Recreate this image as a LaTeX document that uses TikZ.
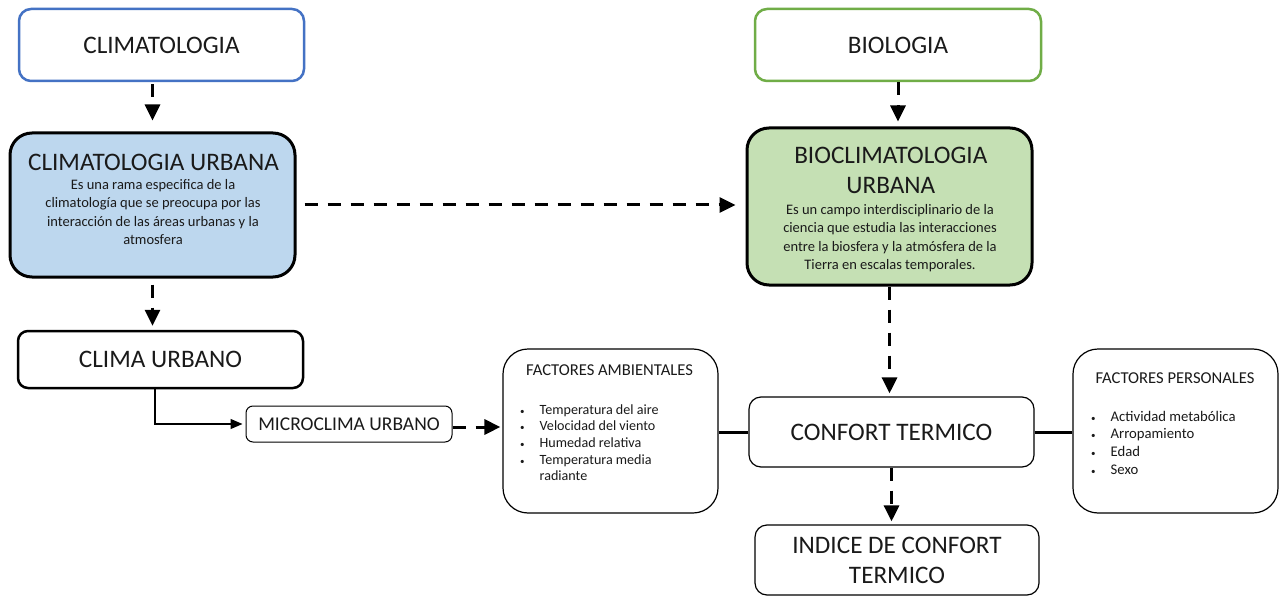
\documentclass[tikz,border=0pt]{standalone}
\usepackage{fontspec}
\setmainfont{Carlito}
\usetikzlibrary{arrows.meta}
\definecolor{cblue}{HTML}{4472C4}
\definecolor{cgreen}{HTML}{70AD47}
\definecolor{cbluef}{HTML}{BDD7EE}
\definecolor{cgreenf}{HTML}{C5E0B4}
\definecolor{txt}{HTML}{1A1A1A}
\newcommand\mybul{{\fontsize{9}{9}\selectfont\textbullet}}
\begin{document}
\begin{tikzpicture}[x=1pt,y=-1pt,
  bx/.style={draw=black, line width=1.2pt, rounded corners=12pt, inner sep=0pt, text=txt},
  big/.style={font=\fontsize{25.2}{30}\selectfont, text=txt},
  topbox/.style={bx, line width=2.5pt, minimum width=285pt, minimum height=72pt, big},
  desc/.style={font=\fontsize{14.5}{18.3}\selectfont, align=center, inner sep=0pt, anchor=base, text=txt},
  listbox/.style={anchor=base west, inner sep=0pt, text=txt},
  darr/.style={line width=3pt, dash pattern=on 13pt off 10pt, -{Triangle[length=16pt,width=15pt]}},
  solidc/.style={line width=3pt},
  thinarr/.style={line width=1.2pt, -{Triangle[length=12pt,width=10pt]}}]
\useasboundingbox[fill=white] (0,0) rectangle (1279,596);

% top boxes
\node[topbox, draw=cblue] (clim) at (161.5,45) {CLIMATOLOGIA};
\node[topbox, draw=cgreen, minimum width=286pt] (biol) at (898,45) {BIOLOGIA};

% climatologia urbana
\node[bx, fill=cbluef, line width=3pt, rounded corners=22pt, minimum width=285pt, minimum height=144pt] (climurb) at (152.5,205) {};
\node[big, inner sep=0pt] (climurbT) at (153.5,162) {CLIMATOLOGIA URBANA};
\node[desc] (climurbD) at (153,244.4) {Es una rama especifica de la\\climatología que se preocupa por las\\interacción de las áreas urbanas y la\\atmosfera};

% bioclimatologia urbana
\node[bx, fill=cgreenf, line width=3pt, rounded corners=22pt, minimum width=285pt, minimum height=157pt] (bioclim) at (889.5,206.5) {};
\node[big, inner sep=0pt, align=center] (bioclimT) at (890.8,170) {BIOCLIMATOLOGIA\\URBANA};
\node[desc] (bioclimD) at (890,269.4) {Es un campo interdisciplinario de la\\ciencia que estudia las interacciones\\entre la biosfera y la atmósfera de la\\Tierra en escalas temporales.};

% clima urbano, microclima
\node[bx, line width=2.5pt, rounded corners=10pt, minimum width=285pt, minimum height=57pt, big] (climaurb) at (160.5,359.5) {CLIMA URBANO};
\node[bx, line width=1pt, rounded corners=7pt, minimum width=206pt, minimum height=36pt, font=\fontsize{19.5}{23}\selectfont] (micro) at (349,424) {MICROCLIMA URBANO};

% factores ambientales
\node[bx, rounded corners=25pt, minimum width=215pt, minimum height=164pt] (famb) at (610.5,431) {};
\node[font=\fontsize{16.6}{20}\selectfont, inner sep=0pt, text=txt] (fambT) at (609.5,370) {FACTORES AMBIENTALES};
\node[listbox, font=\fontsize{14.1}{16.7}\selectfont] (fambL) at (520,414) {\begin{tabular}[t]{@{}l@{\hspace{15pt}}l@{}}
\mybul & Temperatura del aire\\
\mybul & Velocidad del viento\\
\mybul & Humedad relativa\\
\mybul & Temperatura media\\
 & radiante
\end{tabular}};

% confort termico
\node[bx, minimum width=285pt, minimum height=70pt, big] (confort) at (891.5,432) {CONFORT TERMICO};

% factores personales
\node[bx, rounded corners=25pt, minimum width=205pt, minimum height=164pt] (fpers) at (1175.5,431) {};
\node[font=\fontsize{16.6}{20}\selectfont, inner sep=0pt, text=txt] (fpersT) at (1175,378) {FACTORES PERSONALES};
\node[listbox, font=\fontsize{14.7}{17.7}\selectfont] (fpersL) at (1091,421) {\begin{tabular}[t]{@{}l@{\hspace{15pt}}l@{}}
\mybul & Actividad metabólica\\
\mybul & Arropamiento\\
\mybul & Edad\\
\mybul & Sexo
\end{tabular}};

% indice
\node[bx, minimum width=284pt, minimum height=70pt, big, align=center] (indice) at (897,560) {INDICE DE CONFORT\\TERMICO};

% connectors
\draw[darr, shorten <=2pt, shorten >=11pt] (climurb.north |- clim.south) -- (climurb.north);
\draw[darr, shorten >=5pt] (biol.south) -- (biol.south |- bioclim.north);
\draw[darr, shorten <=6pt, shorten >=4pt] (climurb.south) -- (climurb.south |- climaurb.north);
\draw[darr, shorten <=8pt, shorten >=10pt] (climurb.east) -- (climurb.east -| bioclim.west);
\draw[darr, shorten >=3pt] (bioclim.south) -- (bioclim.south |- confort.north);
\draw[darr, shorten >=3pt] (confort.south) -- (confort.south |- indice.north);
\draw[darr, shorten >=2pt] ([yshift=-3pt]micro.east) -- ([yshift=-3pt]micro.east -| famb.west);
\draw[thinarr, shorten >=3pt] ([xshift=-5.5pt]climaurb.south) |- (micro.west);
\draw[solidc] (confort.west -| famb.east) -- (confort.west);
\draw[solidc] (confort.east) -- (confort.east -| fpers.west);
\end{tikzpicture}
\end{document}
